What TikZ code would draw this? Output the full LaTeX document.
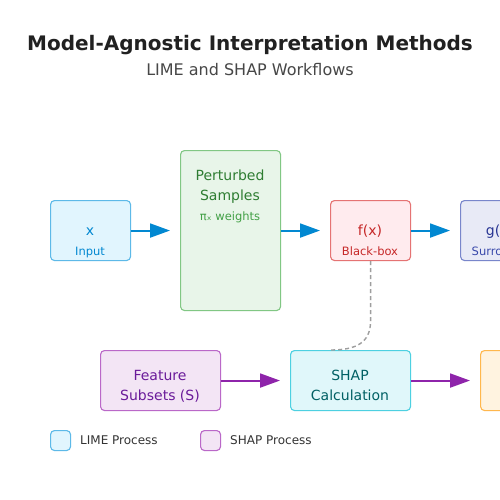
\documentclass[tikz,border=0pt]{standalone}
\usepackage{fontspec}
\setmainfont{DejaVu Sans}
\usetikzlibrary{arrows.meta,calc}
\definecolor{limefill}{HTML}{E1F5FE}\definecolor{limedraw}{HTML}{5DB9E8}
\definecolor{blueA}{HTML}{0288D1}
\definecolor{grfill}{HTML}{E8F5E9}\definecolor{grdraw}{HTML}{81C784}
\definecolor{grtext}{HTML}{2E7D32}\definecolor{grsub}{HTML}{43A047}
\definecolor{rdfill}{HTML}{FFEBEE}\definecolor{rddraw}{HTML}{E57373}\definecolor{rdtext}{HTML}{C62828}
\definecolor{infill}{HTML}{E8EAF6}\definecolor{indraw}{HTML}{7986CB}\definecolor{intext}{HTML}{283593}\definecolor{insub}{HTML}{3949AB}
\definecolor{pufill}{HTML}{F3E5F5}\definecolor{pudraw}{HTML}{BA68C8}\definecolor{putext}{HTML}{6A1B9A}\definecolor{puarrow}{HTML}{8E24AA}
\definecolor{cyfill}{HTML}{E0F7FA}\definecolor{cydraw}{HTML}{4DD0E1}\definecolor{cytext}{HTML}{006064}
\definecolor{orfill}{HTML}{FFF3E0}\definecolor{ordraw}{HTML}{FFB74D}
\definecolor{dashgray}{HTML}{9E9E9E}
\tikzset{
  box/.style={draw, line width=1.1pt, rounded corners=4pt, inner sep=0pt, anchor=north west},
  lbl/.style={anchor=base, inner sep=0pt, font=\fontsize{14}{16}\selectfont},
  sublbl/.style={anchor=base, inner sep=0pt, font=\fontsize{11.5}{13}\selectfont},
  arr/.style={line width=2pt, -{Triangle[length=20pt,width=14pt]}},
}
\begin{document}
\begin{tikzpicture}[x=1pt,y=-1pt]
\clip (0,0) rectangle (500,500);
\fill[white] (0,0) rectangle (500,500);
% titles
\node[anchor=base, inner sep=0pt, text=black!87, font=\fontsize{20}{22}\selectfont\bfseries] (title) at (250,51) {Model-Agnostic Interpretation Methods};
\node[anchor=base, inner sep=0pt, text=black!72, font=\fontsize{16}{18}\selectfont] (subtitle) at (250,76) {LIME and SHAP Workflows};
% boxes
\node[box, fill=limefill, draw=limedraw, minimum width=80pt, minimum height=60pt] (input) at (50,200) {};
\node[box, fill=grfill, draw=grdraw, minimum width=100pt, minimum height=160pt] (pert) at (180,150) {};
\node[box, fill=rdfill, draw=rddraw, minimum width=80pt, minimum height=60pt] (fx) at (330,200) {};
\node[box, fill=infill, draw=indraw, minimum width=80pt, minimum height=60pt] (gx) at (460,200) {};
\node[box, fill=pufill, draw=pudraw, minimum width=120pt, minimum height=60pt] (feat) at (100,350) {};
\node[box, fill=cyfill, draw=cydraw, minimum width=120pt, minimum height=60pt] (shap) at (290,350) {};
\node[box, fill=orfill, draw=ordraw, minimum width=120pt, minimum height=60pt] (outb) at (480,350) {};
% labels
\node[lbl, text=blueA] (inputA) at (90,235) {x};
\node[sublbl, text=blueA] (inputB) at (90,255) {Input};
\node[lbl, text=grtext] (pertA) at (230,180) {Perturbed};
\node[lbl, text=grtext] (pertB) at (230,200) {Samples};
\node[sublbl, text=grsub] (pertC) at (230,220) {πₓ weights};
\node[lbl, text=rdtext] (fxA) at (370,235) {f(x)};
\node[sublbl, text=rdtext] (fxB) at (370,255) {Black-box};
\node[lbl, text=intext] (gxA) at (500,235) {g(x)};
\node[sublbl, text=insub] (gxB) at (500,255) {Surrogate};
\node[lbl, text=putext] (featA) at (160,380) {Feature};
\node[lbl, text=putext] (featB) at (160,400) {Subsets (S)};
\node[lbl, text=cytext] (shapA) at (350,380) {SHAP};
\node[lbl, text=cytext] (shapB) at (350,400) {Calculation};
% arrows
\draw[arr, blueA] (input.east) -- ([xshift=-10pt]pert.west |- input.east);
\draw[arr, blueA] (pert.east |- fx.west) -- ([xshift=-10pt]fx.west);
\draw[arr, blueA] (fx.east) -- ([xshift=-10pt]gx.west);
\draw[arr, puarrow] (feat.east) -- ([xshift=-10pt]shap.west);
\draw[arr, puarrow] (shap.east) -- ([xshift=-10pt]outb.west);
% dashed link
\coordinate (bend) at ($(fx.south)+(0,60)$);
\coordinate (dend) at ($(shap.north)+(-20,0)$);
\draw[dashgray, line width=1.4pt, dash pattern=on 4pt off 3pt] (fx.south) -- (bend) .. controls ($(bend)+(0,22)$) and ($(shap.north)+(5,0)$) .. (dend);
% legend
\node[box, fill=limefill, draw=limedraw, minimum width=20pt, minimum height=20pt] (leg1) at (50,430) {};
\node[anchor=base west, inner sep=0pt, text=black!80, font=\fontsize{12}{14}\selectfont] (leg1t) at (80,444.5) {LIME Process};
\node[box, fill=pufill, draw=pudraw, minimum width=20pt, minimum height=20pt] (leg2) at (200,430) {};
\node[anchor=base west, inner sep=0pt, text=black!80, font=\fontsize{12}{14}\selectfont] (leg2t) at (230,444.5) {SHAP Process};
\end{tikzpicture}
\end{document}
